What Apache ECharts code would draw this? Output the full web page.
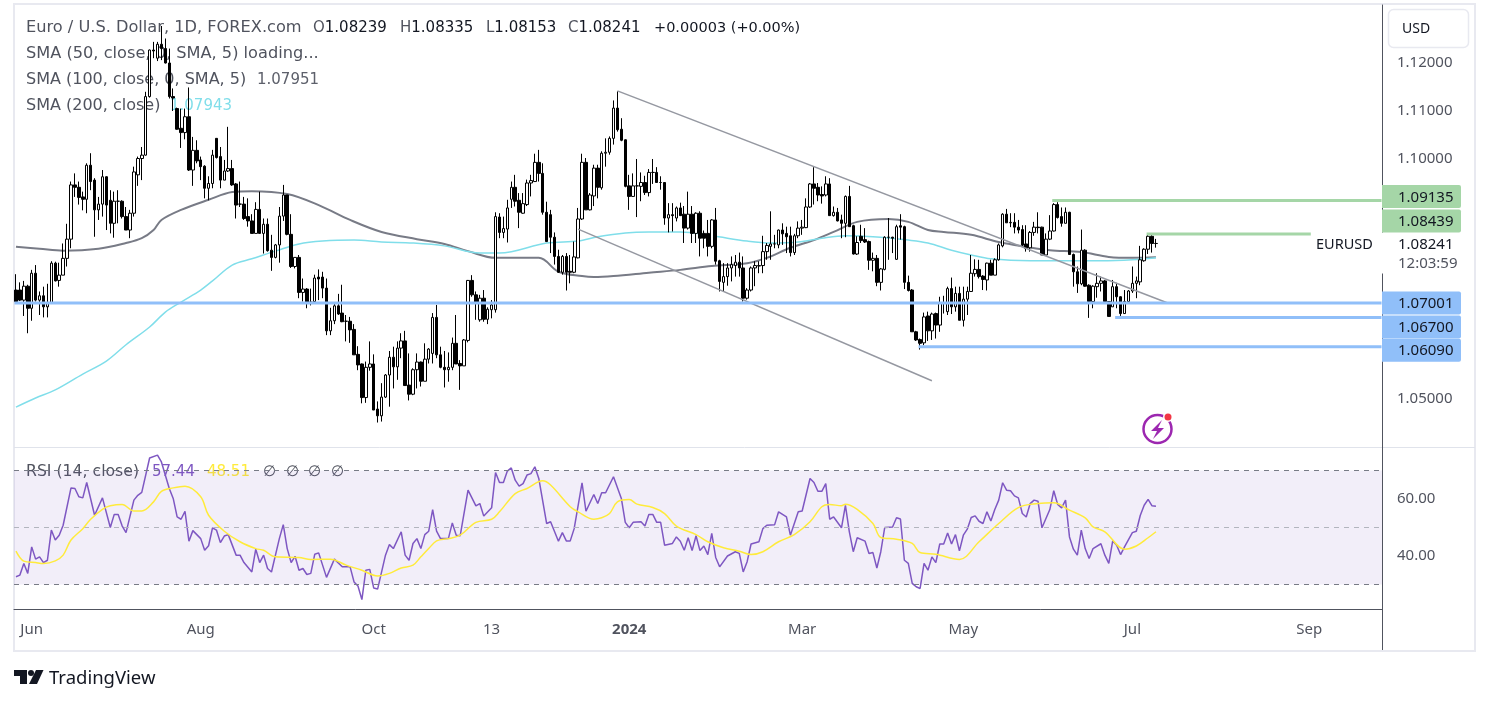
<!DOCTYPE html>
<html>
<head>
<meta charset="utf-8">
<style>html,body{margin:0;padding:0;background:#fff}#chart{width:1490px;height:704px}</style>
<script src="https://cdn.jsdelivr.net/npm/echarts@6/dist/echarts.min.js"></script>
</head>
<body>
<div id="chart"></div>
<script>
// candles
const opens = [
1.0727,1.0727,1.0706,1.0735,1.0689,1.0762,1.0706,1.0715,1.0692,1.0699,
1.0783,1.0747,1.0758,1.0793,1.0833,1.0946,1.0941,1.0921,1.0916,1.0987,
1.0956,1.0894,1.0906,1.0963,1.0914,1.0866,1.0912,1.0912,1.0880,1.0852,
1.0887,1.0967,1.1001,1.1008,1.1130,1.1227,1.1210,1.1239,1.1230,1.1200,
1.1130,1.1105,1.1064,1.1055,1.1088,1.0977,1.1018,1.0998,1.0985,1.0939,
1.0949,1.1043,1.1005,1.0956,1.0975,1.0980,1.0948,1.0906,1.0906,1.0880,
1.0871,1.0845,1.0895,1.0845,1.0864,1.0810,1.0795,1.0821,1.0881,1.0925,
1.0843,1.0776,1.0795,1.0722,1.0729,1.0700,1.0703,1.0754,1.0754,1.0731,
1.0642,1.0663,1.0694,1.0679,1.0662,1.0662,1.0645,1.0593,1.0573,1.0503,
1.0566,1.0573,1.0479,1.0465,1.0504,1.0550,1.0587,1.0567,1.0606,1.0621,
1.0529,1.0510,1.0561,1.0577,1.0537,1.0583,1.0595,1.0670,1.0592,1.0566,
1.0561,1.0566,1.0616,1.0574,1.0569,1.0622,1.0747,1.0717,1.0665,1.0710,
1.0666,1.0686,1.0686,1.0879,1.0847,1.0854,1.0916,1.0941,1.0914,1.0887,
1.0905,1.0950,1.0953,1.0993,1.0970,1.0889,1.0884,1.0837,1.0797,1.0764,
1.0797,1.0766,1.0764,1.0794,1.0875,1.0993,1.0894,1.0923,1.0981,1.0940,
1.1012,1.1014,1.1043,1.1106,1.1062,1.1040,1.0944,1.0922,1.0944,1.0943,
1.0951,1.0930,1.0972,1.0972,1.0951,1.0951,1.0877,1.0884,1.0877,1.0898,
1.0885,1.0856,1.0885,1.0845,1.0887,1.0845,1.0845,1.0818,1.0873,1.0788,
1.0743,1.0755,1.0773,1.0778,1.0785,1.0773,1.0710,1.0727,1.0773,1.0777,
1.0778,1.0807,1.0818,1.0823,1.0821,1.0852,1.0845,1.0840,1.0805,1.0840,
1.0856,1.0857,1.0900,1.0948,1.0941,1.0926,1.0925,1.0948,1.0882,1.0889,
1.0873,1.0866,1.0922,1.0861,1.0802,1.0839,1.0832,1.0828,1.0789,1.0793,
1.0743,1.0770,1.0837,1.0837,1.0791,1.0861,1.0859,1.0743,1.0727,1.0640,
1.0624,1.0617,1.0673,1.0642,1.0678,1.0654,1.0699,1.0682,1.0730,1.0692,
1.0720,1.0664,1.0708,1.0724,1.0761,1.0770,1.0756,1.0748,1.0783,1.0758,
1.0790,1.0819,1.0885,1.0867,1.0868,1.0858,1.0853,1.0823,1.0815,1.0847,
1.0858,1.0858,1.0800,1.0833,1.0850,1.0905,1.0880,1.0866,1.0889,1.0801,
1.0765,1.0740,1.0810,1.0737,1.0703,1.0734,1.0741,1.0746,1.0703,1.0692,
1.0734,1.0713,1.0678,1.0703,1.0725,1.0741,1.0744,1.0788,1.0812,1.0839,1.08239];
const closes = [
1.0703,1.0706,1.0735,1.0689,1.0762,1.0706,1.0715,1.0692,1.0699,1.0783,
1.0746,1.0758,1.0793,1.0833,1.0946,1.0941,1.0920,1.0916,1.0987,1.0953,
1.0894,1.0906,1.0963,1.0904,1.0866,1.0912,1.0912,1.0880,1.0852,1.0887,
1.0973,1.1001,1.1008,1.1130,1.1227,1.1225,1.1239,1.1230,1.1200,1.1130,
1.1127,1.1062,1.1055,1.1088,1.0977,1.1018,1.0996,1.0984,1.0939,1.0949,
1.1008,1.1003,1.0956,1.0975,1.0980,1.0946,1.0904,1.0906,1.0876,1.0871,
1.0845,1.0895,1.0845,1.0864,1.0809,1.0795,1.0821,1.0881,1.0925,1.0843,
1.0776,1.0795,1.0722,1.0729,1.0699,1.0702,1.0752,1.0750,1.0731,1.0642,
1.0663,1.0694,1.0677,1.0661,1.0662,1.0644,1.0592,1.0571,1.0503,1.0566,
1.0573,1.0477,1.0465,1.0504,1.0550,1.0587,1.0567,1.0606,1.0621,1.0528,
1.0510,1.0561,1.0577,1.0537,1.0583,1.0604,1.0670,1.0592,1.0566,1.0561,
1.0566,1.0616,1.0573,1.0569,1.0623,1.0747,1.0717,1.0699,1.0710,1.0666,
1.0687,1.0696,1.0880,1.0847,1.0855,1.0898,1.0941,1.0912,1.0889,1.0907,
1.0950,1.0955,1.0993,1.0970,1.0889,1.0828,1.0837,1.0797,1.0764,1.0797,
1.0764,1.0764,1.0796,1.0875,1.0993,1.0894,1.0925,1.0981,1.0941,1.1012,
1.1014,1.1043,1.1106,1.1061,1.1039,1.0943,1.0922,1.0944,1.0944,1.0951,
1.0930,1.0972,1.0972,1.0951,1.0951,1.0877,1.0884,1.0882,1.0898,1.0882,
1.0856,1.0885,1.0845,1.0887,1.0835,1.0835,1.0818,1.0873,1.0787,1.0745,
1.0755,1.0773,1.0780,1.0785,1.0773,1.0710,1.0727,1.0773,1.0778,1.0778,
1.0807,1.0820,1.0823,1.0823,1.0852,1.0844,1.0838,1.0805,1.0840,1.0856,
1.0858,1.0900,1.0948,1.0939,1.0925,1.0923,1.0948,1.0882,1.0889,1.0871,
1.0866,1.0922,1.0859,1.0802,1.0826,1.0830,1.0827,1.0789,1.0793,1.0743,
1.0771,1.0837,1.0837,1.0835,1.0859,1.0858,1.0743,1.0726,1.0640,1.0623,
1.0616,1.0671,1.0642,1.0677,1.0654,1.0699,1.0700,1.0730,1.0692,1.0720,
1.0664,1.0708,1.0724,1.0762,1.0770,1.0755,1.0749,1.0783,1.0758,1.0790,
1.0821,1.0885,1.0867,1.0868,1.0858,1.0852,1.0821,1.0814,1.0847,1.0858,
1.0857,1.0800,1.0833,1.0850,1.0905,1.0878,1.0866,1.0889,1.0801,1.0765,
1.0740,1.0810,1.0735,1.0703,1.0735,1.0741,1.0746,1.0703,1.0672,1.0734,
1.0713,1.0678,1.0703,1.0725,1.0741,1.0746,1.0790,1.0812,1.0839,1.0824,1.08241];
const highs = [
1.0760,1.0743,1.0746,1.0738,1.0769,1.0779,1.0724,1.0734,1.0740,1.0787,
1.0786,1.0784,1.0824,1.0865,1.0953,1.0970,1.0953,1.0932,1.0991,1.1012,
1.0960,1.0921,1.0977,1.0964,1.0935,1.0932,1.0935,1.0914,1.0900,1.0894,
1.0984,1.1005,1.1025,1.1140,1.1228,1.1244,1.1244,1.1277,1.1251,1.1230,
1.1147,1.1107,1.1105,1.1105,1.1149,1.1046,1.1039,1.1005,1.0987,1.0964,
1.1019,1.1043,1.1025,1.0998,1.1067,1.0998,1.0950,1.0953,1.0921,1.0918,
1.0885,1.0910,1.0932,1.0876,1.0876,1.0842,1.0823,1.0900,1.0946,1.0925,
1.0885,1.0795,1.0800,1.0751,1.0731,1.0730,1.0759,1.0770,1.0765,1.0751,
1.0690,1.0700,1.0719,1.0738,1.0675,1.0671,1.0656,1.0610,1.0574,1.0578,
1.0620,1.0593,1.0495,1.0533,1.0552,1.0600,1.0609,1.0620,1.0637,1.0642,
1.0595,1.0564,1.0595,1.0578,1.0616,1.0606,1.0679,1.0696,1.0609,1.0600,
1.0597,1.0628,1.0675,1.0581,1.0625,1.0748,1.0758,1.0724,1.0717,1.0727,
1.0691,1.0706,1.0889,1.0887,1.0880,1.0915,1.0953,1.0967,1.0929,1.0929,
1.0957,1.0967,1.1011,1.1019,1.0991,1.0911,1.0894,1.0847,1.0811,1.0800,
1.0804,1.0800,1.0828,1.0898,1.1011,1.1002,1.0929,1.0988,1.0988,1.1016,
1.1043,1.1047,1.1122,1.1141,1.1085,1.1041,1.0967,1.0970,1.1000,1.0972,
1.0965,1.0979,1.1000,1.0983,1.0964,1.0952,1.0908,1.0908,1.0901,1.0909,
1.0902,1.0932,1.0902,1.0889,1.0891,1.0851,1.0873,1.0875,1.0898,1.0790,
1.0783,1.0783,1.0797,1.0800,1.0805,1.0797,1.0731,1.0776,1.0787,1.0787,
1.0840,1.0825,1.0891,1.0842,1.0853,1.0866,1.0859,1.0859,1.0844,1.0870,
1.0873,1.0918,1.0950,1.0983,1.0950,1.0943,1.0964,1.0960,1.0901,1.0898,
1.0884,1.0924,1.0944,1.0863,1.0839,1.0863,1.0856,1.0830,1.0805,1.0800,
1.0773,1.0839,1.0877,1.0838,1.0863,1.0885,1.0861,1.0757,1.0729,1.0642,
1.0626,1.0680,1.0682,1.0680,1.0680,1.0713,1.0715,1.0734,1.0753,1.0734,
1.0734,1.0734,1.0734,1.0800,1.0791,1.0790,1.0758,1.0784,1.0790,1.0793,
1.0824,1.0887,1.0896,1.0887,1.0887,1.0873,1.0862,1.0862,1.0850,1.0869,
1.0889,1.0859,1.0845,1.0883,1.0908,1.0910,1.0899,1.0899,1.0890,1.0803,
1.0776,1.0853,1.0812,1.0739,1.0737,1.0762,1.0755,1.0748,1.0704,1.0748,
1.0742,1.0714,1.0727,1.0727,1.0776,1.0755,1.0819,1.0814,1.0842,1.0842,1.08335];
const lows = [
1.0700,1.0704,1.0673,1.0637,1.0663,1.0703,1.0675,1.0670,1.0670,1.0699,
1.0745,1.0734,1.0758,1.0776,1.0814,1.0921,1.0905,1.0893,1.0887,1.0935,
1.0838,1.0873,1.0880,1.0852,1.0845,1.0836,1.0866,1.0876,1.0852,1.0835,
1.0880,1.0944,1.0956,1.1007,1.1128,1.1210,1.1204,1.1206,1.1199,1.1126,
1.1100,1.1061,1.1023,1.1041,1.0975,1.0944,1.0991,1.0956,1.0918,1.0914,
1.0939,1.1001,1.0939,1.0956,1.0973,1.0944,1.0876,1.0900,1.0873,1.0859,
1.0845,1.0845,1.0845,1.0803,1.0807,1.0767,1.0793,1.0784,1.0871,1.0841,
1.0773,1.0772,1.0710,1.0703,1.0689,1.0695,1.0700,1.0706,1.0710,1.0633,
1.0633,1.0656,1.0675,1.0660,1.0620,1.0617,1.0592,1.0560,1.0491,1.0492,
1.0559,1.0477,1.0451,1.0453,1.0502,1.0484,1.0522,1.0540,1.0585,1.0528,
1.0497,1.0508,1.0522,1.0526,1.0537,1.0574,1.0574,1.0585,1.0564,1.0524,
1.0536,1.0560,1.0573,1.0519,1.0569,1.0618,1.0713,1.0665,1.0661,1.0661,
1.0656,1.0668,1.0680,1.0835,1.0835,1.0826,1.0898,1.0901,1.0856,1.0886,
1.0902,1.0922,1.0953,1.0953,1.0884,1.0827,1.0804,1.0780,1.0763,1.0759,
1.0726,1.0741,1.0762,1.0793,1.0873,1.0894,1.0893,1.0902,1.0918,1.0936,
1.0984,1.1009,1.1030,1.1057,1.1037,1.0941,1.0894,1.0921,1.0879,1.0912,
1.0925,1.0922,1.0948,1.0950,1.0936,1.0863,1.0847,1.0849,1.0870,1.0882,
1.0825,1.0853,1.0825,1.0825,1.0797,1.0814,1.0797,1.0814,1.0780,1.0724,
1.0724,1.0736,1.0745,1.0755,1.0755,1.0703,1.0707,1.0724,1.0735,1.0762,
1.0762,1.0790,1.0790,1.0814,1.0814,1.0821,1.0804,1.0797,1.0800,1.0835,
1.0842,1.0856,1.0898,1.0905,1.0912,1.0907,1.0922,1.0882,1.0880,1.0870,
1.0835,1.0837,1.0859,1.0801,1.0800,1.0825,1.0825,1.0769,1.0766,1.0735,
1.0726,1.0768,1.0790,1.0804,1.0790,1.0832,1.0729,1.0724,1.0640,1.0621,
1.0603,1.0612,1.0621,1.0623,1.0626,1.0640,1.0678,1.0675,1.0677,1.0682,
1.0664,1.0651,1.0675,1.0724,1.0755,1.0751,1.0727,1.0726,1.0758,1.0758,
1.0788,1.0816,1.0867,1.0858,1.0845,1.0845,1.0819,1.0807,1.0807,1.0840,
1.0845,1.0800,1.0800,1.0831,1.0849,1.0876,1.0859,1.0866,1.0800,1.0734,
1.0721,1.0737,1.0734,1.0669,1.0689,1.0711,1.0724,1.0703,1.0672,1.0692,
1.0689,1.0673,1.0678,1.0701,1.0721,1.0710,1.0737,1.0786,1.0802,1.0805,1.08153];

// moving averages, read at the bars where the curve changes [bar, price]
const sma100 = [[0,1.0817],[6,1.0813],[12,1.0809],[21,1.0813],[28,1.0825],[32,1.0835],[35,1.0852],[37,1.0873],[42,1.0894],[49,1.0915],[55,1.0931],[60,1.0933],[69,1.0927],[77,1.0904],[85,1.0873],[93,1.0848],[102,1.0833],[109,1.0823],[115,1.0808],[122,1.0794],[133,1.0794],[138,1.0765],[144,1.0756],[147,1.0754],[152,1.0756],[161,1.0763],[169,1.0769],[177,1.0777],[186,1.0783],[191,1.0794],[197,1.0815],[203,1.0831],[208,1.0848],[214,1.0869],[222,1.0875],[227,1.0869],[232,1.0852],[236,1.0848],[243,1.0842],[250,1.0827],[257,1.0817],[263,1.0810],[271,1.0806],[278,1.0796],[284,1.0794],[290,1.07951]];
const sma200 = [[0,1.0483],[5,1.0502],[10,1.0519],[17,1.0552],[23,1.0579],[28,1.0613],[34,1.0650],[38,1.0681],[42,1.0702],[47,1.0727],[50,1.0746],[55,1.0779],[60,1.0792],[66,1.0808],[72,1.0823],[78,1.0829],[86,1.0831],[93,1.0827],[101,1.0825],[109,1.0819],[118,1.0804],[123,1.0804],[135,1.0825],[143,1.0829],[148,1.0838],[155,1.0846],[161,1.0848],[169,1.0848],[177,1.0840],[186,1.0829],[192,1.0825],[199,1.0827],[205,1.0835],[211,1.0840],[218,1.0838],[227,1.0831],[232,1.0825],[238,1.0810],[243,1.0800],[248,1.0792],[258,1.0788],[267,1.0788],[276,1.0788],[284,1.0790],[290,1.07943]];

// RSI pane [bar, value]
const rsi = [[0,32.7],[1,33.3],[2,37.4],[3,33.9],[4,43.2],[5,38.9],[6,39.7],[7,37.7],[8,38.5],[9,49.1],[10,45.6],[11,47.3],[12,50.8],[14,63.9],[15,63.7],[16,60.8],[17,60.4],[18,65.8],[20,54.3],[22,60.4],[24,50],[25,54.6],[26,54.6],[27,50.6],[28,48.2],[30,59.6],[31,61.3],[32,62.3],[34,74.4],[36,75.4],[37,73],[39,63.7],[40,60.2],[41,53.7],[42,52.9],[43,55.7],[44,45.2],[45,48.9],[46,47.5],[47,46.1],[48,42],[49,43.6],[50,49.9],[51,49.1],[52,44.7],[53,47],[54,47.5],[56,40.3],[57,40.3],[58,37.7],[60,34.4],[61,42.4],[62,37.7],[63,40.3],[64,35.6],[65,34.4],[67,46.1],[68,51],[69,42.6],[70,37.7],[71,39.9],[72,35],[73,35.6],[74,33.5],[75,33.9],[76,40.6],[77,41.1],[79,32.5],[81,38.9],[83,36.2],[85,36.2],[86,30.9],[87,29.5],[88,24.7],[89,35],[90,35.3],[91,28.8],[92,28.4],[94,40.3],[95,44],[96,42.6],[98,48.5],[99,40.3],[100,38.5],[101,44.4],[102,46.1],[103,42.6],[104,47.5],[105,48.7],[106,56.3],[107,48.7],[108,46.1],[110,46.1],[111,51.6],[112,47.3],[113,47.1],[115,63.1],[117,57.6],[118,58.4],[119,54],[121,56.9],[122,69.3],[123,65.8],[124,65.8],[125,69.8],[126,70.9],[127,66.6],[128,64.5],[129,65.4],[130,68.4],[131,68.9],[132,71.3],[133,67.2],[135,51.4],[136,52],[138,45.2],[139,48.2],[140,45.3],[141,45.3],[142,49.6],[144,65.7],[145,55.7],[147,61.6],[148,58.4],[149,62.2],[150,62.2],[152,67.8],[154,60.2],[155,51.8],[156,49.9],[157,51.8],[159,52],[160,50.5],[161,54.6],[162,54.6],[163,51.8],[164,51.8],[165,43.8],[167,44.4],[168,46.7],[169,45.2],[170,42],[171,46.4],[172,41.9],[173,47.1],[174,41.9],[175,43.5],[176,40.5],[177,47.9],[178,39.5],[179,36.2],[181,40],[183,41.5],[184,40.9],[185,34.4],[186,38],[187,44.2],[189,45],[190,49.6],[191,50.8],[193,51],[194,55.5],[196,53.7],[197,47.3],[199,55.5],[200,55.8],[202,67.2],[203,65.8],[204,62.7],[205,62.7],[206,65.4],[207,52.9],[208,53.7],[210,49.9],[211,57.8],[212,48.5],[213,41.5],[214,46.4],[216,45.2],[217,40.9],[218,41.2],[219,35.8],[220,41.5],[221,50],[223,50.2],[224,53.4],[225,53],[226,38.5],[227,37.4],[228,30.4],[229,29.2],[230,28.6],[231,37.4],[232,35],[233,39.7],[234,37.7],[235,44.2],[236,44.2],[237,48.1],[238,44.2],[239,47.5],[240,41.8],[241,47.3],[242,49.4],[243,53.5],[244,54.1],[245,52.2],[246,51.4],[247,55.5],[248,52.3],[249,56.3],[250,59.6],[251,65.7],[252,63.1],[253,62.9],[254,61.1],[255,60.4],[256,54.9],[257,53.7],[258,58.4],[259,59.6],[260,59.2],[261,49.9],[263,56.3],[264,62.9],[265,58.1],[266,56.9],[267,59.6],[268,46.7],[269,42.4],[270,40.3],[271,49.1],[272,42.6],[273,39.1],[274,42.6],[276,44.3],[277,40.3],[278,37.4],[279,45.3],[280,43.8],[281,40.5],[282,43.2],[284,48.2],[285,48.7],[286,54.2],[287,57.8],[288,59.9],[289,57.6],[290,57.44]];
const rsiMa = [[0,41.7],[2,38.2],[5,37.7],[7,37.4],[10,38.3],[12,40.3],[14,45.6],[17,49.6],[19,52.9],[22,56.4],[24,57.6],[27,58.1],[30,55.8],[32,55.8],[35,59],[37,62.7],[40,63.9],[43,64.5],[47,60.8],[49,54.3],[53,48.7],[57,45],[61,42.6],[63,42],[66,39.7],[72,39.5],[75,38.8],[80,38.9],[84,36.8],[88,35],[92,33],[95,33.9],[98,35.8],[101,36.8],[103,39.7],[105,42.6],[107,45.3],[110,46.1],[113,47.3],[117,51.8],[121,52.9],[123,55.5],[127,61.9],[130,63.7],[134,66.4],[136,64.9],[141,57.3],[143,55.5],[147,52.9],[149,53.4],[151,54.9],[153,59],[156,59.8],[158,58.2],[162,57],[165,54.9],[168,50.5],[173,47.5],[176,45],[180,42.9],[184,41.7],[187,40.5],[190,41.5],[194,45],[198,47.5],[202,52],[205,57.3],[207,58.1],[210,57.6],[211,58.2],[214,56.4],[218,51.4],[220,46.5],[224,45.9],[228,44.4],[230,41.2],[234,40.6],[240,38.8],[245,45],[250,51.4],[255,57],[260,58.4],[264,58.7],[268,56.1],[272,53.4],[274,50.2],[277,48.5],[282,42.4],[285,43.5],[288,46.4],[290,48.51]];
const rsiLevels = [70, 50, 30];

// axis ticks
const priceTicks = [1.05, 1.10, 1.11, 1.12];
const rsiTicks = [40, 60];
const timeTickBars = [4, 47, 91, 121, 156, 200, 241, 284, 329];
const timeTickLabels = ['Jun', 'Aug', 'Oct', '13', '2024', 'Mar', 'May', 'Jul', 'Sep'];
const barCount = 348;
const bars = Array.from({length: barCount}, (_, i) => String(i));

// drawn levels and trend lines
const greenLevels = [[1.09135, 264, 347], [1.08439, 288, 329]];
const blueLevels = [[1.07001, 0, 347], [1.06700, 280, 347], [1.06090, 230, 347]];
const trendUpper = [[153, 1.1142], [293, 1.0700]];
const trendLower = [[143, 1.0854], [233, 1.0538]];

const tagPrices = [1.09135, 1.08439, 1.07001, 1.06700, 1.06090];
const tagLabels = ['1.09135', '1.08439', '1.07001', '1.06700', '1.06090'];
const tagColors = ['#a5d6a7', '#a5d6a7', '#90bff9', '#90bff9', '#90bff9'];
const tagShifts = [-4, -13, 0, 9.5, 3.5];
const lastPrice = 1.08241;

const FONT = '"Noto Sans", sans-serif';
const LEGEND_FONT = '"DejaVu Sans", sans-serif';
const TEXT = '#50535e';

const candles = opens.map((o, i) => [o, closes[i], lows[i], highs[i]]);

function txt(x, y, text, color, size, extra) {
    return {type: 'text', z: 1, silent: true, x: x, y: y + 1,
        style: Object.assign({text: text, fill: color || TEXT, fontSize: size || 15, fontFamily: LEGEND_FONT, verticalAlign: 'middle'}, extra || {})};
}
function hline(x1, x2, y, color, w) {
    return {type: 'line', z: 0, silent: true, shape: {x1: x1, y1: y, x2: x2, y2: y}, style: {stroke: color, lineWidth: w || 1}};
}
function vline(x, y1, y2, color, w) {
    return {type: 'line', z: 0, silent: true, shape: {x1: x, y1: y1, x2: x, y2: y2}, style: {stroke: color, lineWidth: w || 1}};
}
function levelSeries(lv, color) {
    return {type: 'line', data: [[lv[1], lv[0]], [lv[2], lv[0]]], showSymbol: false, silent: true, z: 5,
        lineStyle: {color: color, width: 3, cap: 'square'}};
}
function smoothLine(data, color, width, grid, z) {
    return {type: 'line', data: data, showSymbol: false, silent: true, z: z || 4, xAxisIndex: grid, yAxisIndex: grid,
        smooth: 0.35, lineStyle: {color: color, width: width}};
}
function ohlcText(x, letter, value) {
    const rich = {g: {fill: TEXT, fontSize: 15, fontFamily: LEGEND_FONT}, k: {fill: '#131722', fontSize: 15, fontFamily: LEGEND_FONT}};
    return txt(x, 27, '{g|' + letter + '}{k|' + value + '}', null, 15, {rich: rich});
}

const graphics = [
    // frame and pane separators
    hline(13, 1476, 4, '#e8e9f0', 2), hline(13, 1476, 651, '#e8e9f0', 2),
    vline(14, 4, 651, '#e8e9f0', 2), vline(1475, 4, 651, '#e8e9f0', 2),
    hline(14, 1475, 447.5, '#e0e3eb', 1),
    vline(1382.5, 609, 650, '#50535e', 1),
    // currency button
    {type: 'rect', z: 1, silent: true, shape: {x: 1388.5, y: 9.5, width: 80, height: 38, r: 5}, style: {fill: '#fff', stroke: '#e8e9f0', lineWidth: 1.5}},
    {type: 'text', z: 1, silent: true, x: 1402, y: 29, style: {text: 'USD', fill: '#131722', fontSize: 14, fontFamily: FONT, verticalAlign: 'middle'}},
    // legend
    txt(26, 27, 'Euro / U.S. Dollar, 1D, FOREX.com', null, 16.2),
    ohlcText(313, 'O', '1.08239'), ohlcText(400, 'H', '1.08335'), ohlcText(486, 'L', '1.08153'), ohlcText(568, 'C', '1.08241'),
    txt(654, 27, '+0.00003 (+0.00%)', '#131722', 14.5),
    txt(26, 53, 'SMA (50, close, 0, SMA, 5) loading...', null, 16.2),
    txt(26, 79, 'SMA (100, close, 0, SMA, 5)', null, 16),
    txt(257, 79, '1.07951', '#5d606b'),
    txt(26, 105, 'SMA (200, close)', null, 16),
    txt(170, 105, '1.07943', '#80deea'),
    txt(26, 471, 'RSI (14, close)', null, 15.7),
    txt(152, 471, '57.44', '#7e57c2'),
    txt(207, 471, '48.51', '#ffeb3b'),
    txt(263, 471, '∅', TEXT), txt(286, 471, '∅', TEXT), txt(308, 471, '∅', TEXT), txt(331, 471, '∅', TEXT),
    // bolt badge
    {type: 'circle', z: 9, silent: true, shape: {cx: 1157.5, cy: 429, r: 14}, style: {fill: '#fff', stroke: '#9c27b0', lineWidth: 2.5}},
    {type: 'polygon', z: 9, silent: true, shape: {points: [[1162, 420], [1151, 431], [1157, 431], [1153, 439], [1164, 428], [1158, 428]]}, style: {fill: '#9c27b0'}},
    {type: 'circle', z: 9, silent: true, shape: {cx: 1168, cy: 417, r: 5}, style: {fill: '#fff'}},
    {type: 'circle', z: 9, silent: true, shape: {cx: 1168, cy: 417, r: 3.5}, style: {fill: '#f23645'}},
    // logo
    {type: 'polygon', silent: true, shape: {points: [[14, 670], [27, 670], [27, 684], [20, 684], [20, 676], [14, 676]]}, style: {fill: '#131722'}},
    {type: 'circle', silent: true, shape: {cx: 31, cy: 673, r: 3}, style: {fill: '#131722'}},
    {type: 'polygon', silent: true, shape: {points: [[36, 670], [43.5, 670], [37, 684], [29, 684]]}, style: {fill: '#131722'}},
    {type: 'text', silent: true, x: 49, y: 679, style: {text: 'TradingView', fill: '#131722', fontSize: 18.5, fontFamily: FONT, verticalAlign: 'middle'}}
];

const chart = echarts.init(document.getElementById('chart'));
chart.setOption({
    animation: false,
    backgroundColor: '#fff',
    textStyle: {fontFamily: FONT},
    graphic: graphics,
    grid: [
        {left: 14, top: 5, width: 1368, height: 442},
        {left: 14, top: 447, width: 1368, height: 162}
    ],
    xAxis: [
        {type: 'category', gridIndex: 0, data: bars, axisLine: {show: false}, axisTick: {show: false}, axisLabel: {show: false}, splitLine: {show: false}},
        {type: 'category', gridIndex: 1, data: bars,
            axisLine: {lineStyle: {color: '#50535e', width: 1}}, axisTick: {show: false}, splitLine: {show: false},
            axisLabel: {
                margin: 13, fontSize: 15, color: TEXT, fontFamily: FONT, hideOverlap: false,
                interval: i => timeTickBars.includes(i),
                formatter: (v, i) => {
                    const s = timeTickLabels[timeTickBars.indexOf(i)];
                    return s === '2024' ? '{b|2024}' : s;
                },
                rich: {b: {fontWeight: 'bold', fontSize: 15, color: TEXT, fontFamily: FONT}}
            }}
    ],
    yAxis: [
        {type: 'value', gridIndex: 0, position: 'right', min: 1.04, max: 1.13208, splitLine: {show: false},
            axisLine: {show: true, lineStyle: {color: '#50535e', width: 1}}, axisTick: {show: false},
            axisLabel: {customValues: priceTicks, margin: 15, fontSize: 15, color: TEXT, fontFamily: FONT, padding: [4, 0, 0, 0], formatter: v => v.toFixed(5)}},
        {type: 'value', gridIndex: 1, position: 'right', min: 21.4, max: 78.25, splitLine: {show: false},
            axisLine: {show: true, lineStyle: {color: '#50535e', width: 1}}, axisTick: {show: false},
            axisLabel: {customValues: rsiTicks, margin: 15, fontSize: 15, color: TEXT, fontFamily: FONT, padding: [4, 0, 0, 0], formatter: v => v.toFixed(2)}}
    ],
    series: [
        smoothLine(sma100, '#787b86', 2, 0, 3),
        smoothLine(sma200, '#80deea', 1.5, 0, 3),
        {type: 'line', data: trendUpper, showSymbol: false, silent: true, z: 4, lineStyle: {color: '#9598a1', width: 1.5}},
        {type: 'line', data: trendLower, showSymbol: false, silent: true, z: 4, lineStyle: {color: '#9598a1', width: 1.5}},
        {type: 'candlestick', data: candles, barWidth: 3, silent: true, z: 3,
            itemStyle: {color: '#ffffff', color0: '#000000', borderColor: '#000000', borderColor0: '#000000', borderWidth: 1}},
        ...blueLevels.map(l => levelSeries(l, '#90bff9')),
        ...greenLevels.map(l => levelSeries(l, '#a5d6a7')),
        // price tags on the scale
        {type: 'custom', silent: true, z: 10, clip: false,
            data: tagPrices.map(p => [0, p]),
            renderItem: (params, api) => {
                const i = params.dataIndex;
                const y = api.coord([0, tagPrices[i]])[1] + tagShifts[i];
                const x = params.coordSys.x + params.coordSys.width;
                return {type: 'group', children: [
                    {type: 'rect', shape: {x: x, y: y - 11.5, width: 79, height: 23, r: [0, 2, 2, 0]}, style: {fill: tagColors[i]}},
                    {type: 'text', x: x + 16, y: y + 1, style: {text: tagLabels[i], fill: '#131722', fontSize: 15, fontFamily: FONT, verticalAlign: 'middle'}}
                ]};
            }},
        // last price block
        {type: 'custom', silent: true, z: 9, clip: false,
            data: [[0, lastPrice]],
            renderItem: (params, api) => {
                const y = api.coord([0, lastPrice])[1];
                const x = params.coordSys.x + params.coordSys.width;
                return {type: 'group', children: [
                    {type: 'rect', shape: {x: x - 71, y: y - 11, width: 150, height: 41}, style: {fill: '#fff'}},
                    {type: 'text', x: x - 66, y: y + 1, style: {text: 'EURUSD', fill: '#131722', fontSize: 14.5, fontFamily: FONT, verticalAlign: 'middle'}},
                    {type: 'text', x: x + 16, y: y + 1, style: {text: lastPrice.toFixed(5), fill: '#131722', fontSize: 15, fontFamily: FONT, verticalAlign: 'middle'}},
                    {type: 'text', x: x + 16, y: y + 20, style: {text: '12:03:59', fill: TEXT, fontSize: 15, fontFamily: FONT, verticalAlign: 'middle'}}
                ]};
            }},
        // RSI pane
        {type: 'line', xAxisIndex: 1, yAxisIndex: 1, data: rsi, showSymbol: false, silent: true, z: 4,
            lineStyle: {color: '#7e57c2', width: 1.5},
            markArea: {silent: true, itemStyle: {color: 'rgba(126,87,194,0.1)'},
                data: [[{yAxis: rsiLevels[0]}, {yAxis: rsiLevels[2]}]]},
            markLine: {silent: true, symbol: 'none', label: {show: false},
                data: rsiLevels.map(v => ({yAxis: v, lineStyle: {color: v === 50 ? '#b2b5be' : '#787b86', type: [5, 5], width: 1}}))}},
        smoothLine(rsiMa, '#ffeb3b', 1.5, 1, 5)
    ]
});
</script>
</body>
</html>
